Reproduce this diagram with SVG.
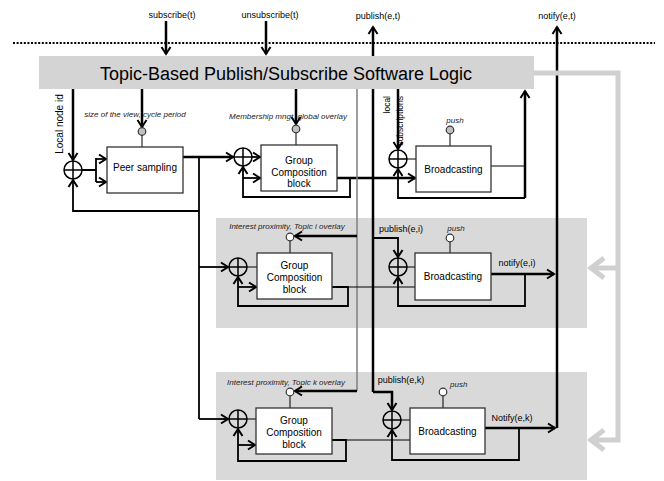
<svg xmlns="http://www.w3.org/2000/svg" width="664" height="481" viewBox="0 0 664 481">
<style>
text{font-family:"Liberation Sans",Arial,sans-serif;fill:#000}
.lbl{font-size:9px;text-anchor:middle}
.it{font-size:8px;font-style:italic;text-anchor:middle;fill:#222}
.box{fill:#fff;stroke:#333;stroke-width:1.3}
.bt{font-size:10px;text-anchor:middle}
.sum{fill:none;stroke:#000;stroke-width:1.5}
.knob{stroke:#333;stroke-width:1.2}
.thick{fill:none;stroke:#000;stroke-width:2.5}
.med{fill:none;stroke:#000;stroke-width:1.8}
.thin{fill:none;stroke:#000;stroke-width:1}
.gray{fill:none;stroke:#7f7f7f;stroke-width:1.5}
.bg{fill:#d9d9d9}
</style>
<defs>
<marker id="a" markerUnits="userSpaceOnUse" refX="0" refY="0" markerWidth="20" markerHeight="20" orient="auto" overflow="visible">
<path d="M-7,-4.5 L0,0 L-7,4.5" fill="none" stroke="#000" stroke-width="2"/>
</marker>
<marker id="g" markerUnits="userSpaceOnUse" refX="0" refY="0" markerWidth="30" markerHeight="30" orient="auto" overflow="visible">
<path d="M-13,-10 L0,0 L-13,10" fill="none" stroke="#d0d0d0" stroke-width="5"/>
</marker>
</defs>
<rect width="664" height="481" fill="#fff"/>

<g id="topic-i-area"><rect class="bg" x="216" y="218" width="371" height="110"/></g>
<g id="topic-k-area"><rect class="bg" x="216" y="372" width="371" height="108"/></g>

<g id="boundary"><line x1="13" y1="43" x2="655" y2="43" stroke="#000" stroke-width="2.2" stroke-dasharray="2 1.6"/></g>

<g id="connectors">
<!-- external interface -->
<line class="thick" x1="166" y1="21" x2="166" y2="54" marker-end="url(#a)"/>
<line class="thick" x1="266" y1="21" x2="266" y2="54" marker-end="url(#a)"/>
<path class="thick" d="M373,392 L373,27" marker-end="url(#a)"/>
<path class="thick" d="M557,428 L557,27" marker-end="url(#a)"/>
<!-- gray feedback -->
<path d="M530,73 L618,73 L618,440 L591,440" fill="none" stroke="#d0d0d0" stroke-width="5" marker-end="url(#g)"/>
<path d="M618,268 L591,268" fill="none" stroke="#d0d0d0" stroke-width="5" marker-end="url(#g)"/>
<!-- peer sampling -->
<line class="thick" x1="73" y1="89" x2="73" y2="160" marker-end="url(#a)"/>
<line class="thick" x1="142" y1="89" x2="142" y2="127" marker-end="url(#a)"/>
<line class="thin" x1="142" y1="135" x2="142" y2="147"/>
<path class="med" d="M82,170 L96,170 M96,158 L96,182"/>
<line class="med" x1="96" y1="159" x2="106" y2="159" marker-end="url(#a)"/>
<line class="med" x1="96" y1="182" x2="106" y2="182" marker-end="url(#a)"/>
<path class="med" d="M199,211 L73,211 L73,180" marker-end="url(#a)"/>
<line class="thick" x1="183" y1="157" x2="233" y2="157" marker-end="url(#a)"/>
<path class="med" d="M199,157 L199,419"/>
<line class="med" x1="199" y1="267" x2="228" y2="267" marker-end="url(#a)"/>
<line class="med" x1="199" y1="419" x2="228" y2="419" marker-end="url(#a)"/>
<!-- group composition 1 -->
<line class="thick" x1="296" y1="89" x2="296" y2="124" marker-end="url(#a)"/>
<line class="thin" x1="296" y1="133" x2="296" y2="145"/>
<line class="med" x1="252" y1="157" x2="260" y2="157" marker-end="url(#a)"/>
<path class="med" d="M337,178 L350,178 L350,197 L243,197 L243,167" marker-end="url(#a)"/>
<line class="med" x1="243" y1="178" x2="260" y2="178" marker-end="url(#a)"/>
<line class="thick" x1="337" y1="178" x2="415" y2="178" marker-end="url(#a)"/>
<!-- overlay control line -->
<path class="gray" d="M357,89 L357,391"/>
<path class="thick" d="M357,236 L295,236" marker-end="url(#a)"/>
<path class="thick" d="M357,391 L295,391" marker-end="url(#a)"/>
<!-- broadcasting 1 -->
<line class="thick" x1="398" y1="89" x2="398" y2="149" marker-end="url(#a)"/>
<line class="thin" x1="407" y1="159" x2="416" y2="159"/>
<line class="thin" x1="450" y1="134" x2="450" y2="146"/>
<path class="thin" d="M491,166 L525,166"/>
<line class="thick" x1="525" y1="198" x2="525" y2="91" marker-end="url(#a)"/>
<path class="med" d="M525,198 L398,198 L398,169" marker-end="url(#a)"/>
<!-- topic i -->
<line class="thin" x1="290" y1="240" x2="290" y2="253"/>
<line class="thin" x1="247" y1="267" x2="257" y2="267"/>
<path class="med" d="M332,287 L348,287 L348,306 L238,306 L238,277" marker-end="url(#a)"/>
<line class="med" x1="238" y1="287" x2="256" y2="287" marker-end="url(#a)"/>
<line class="thin" x1="332" y1="287" x2="415" y2="287"/>
<path class="med" d="M373,238 L398,238 L398,257" marker-end="url(#a)"/>
<line class="thin" x1="407" y1="267" x2="415" y2="267"/>
<line class="thin" x1="450" y1="242" x2="450" y2="253"/>
<line class="thick" x1="491" y1="274" x2="554" y2="274" marker-end="url(#a)"/>
<path class="med" d="M525,274 L525,306 L398,306 L398,277" marker-end="url(#a)"/>
<!-- topic k -->
<line class="thin" x1="290" y1="395" x2="290" y2="408"/>
<line class="thin" x1="247" y1="419" x2="256" y2="419"/>
<path class="med" d="M332,440 L346,440 L346,461 L238,461 L238,429" marker-end="url(#a)"/>
<line class="med" x1="238" y1="445" x2="255" y2="445" marker-end="url(#a)"/>
<line class="thin" x1="332" y1="440" x2="410" y2="440"/>
<path class="thick" d="M373,392 L392,392 L392,410" marker-end="url(#a)"/>
<line class="thin" x1="401" y1="420" x2="410" y2="420"/>
<line class="thin" x1="443" y1="396" x2="443" y2="408"/>
<line class="thick" x1="485" y1="428" x2="555" y2="428" marker-end="url(#a)"/>
<path class="med" d="M519,428 L519,460 L392,460 L392,430" marker-end="url(#a)"/>
</g>

<g id="banner">
<rect x="39" y="56" width="495" height="33" fill="#d4d4d4"/>
<text x="286" y="80" font-size="18" text-anchor="middle">Topic-Based Publish/Subscribe Software Logic</text>
</g>

<g id="interface-labels">
<text class="lbl" x="172" y="18">subscribe(t)</text>
<text class="lbl" x="270" y="18">unsubscribe(t)</text>
<text class="lbl" x="378" y="19">publish(e,t)</text>
<text class="lbl" x="557" y="19">notify(e,t)</text>
<text x="63" y="124" font-size="10" text-anchor="middle" transform="rotate(-90 63 124)">Local node id</text>
</g>

<g id="sum-local"><circle class="sum" cx="73" cy="170" r="9" fill="#fff"/><path class="sum" d="M64,170 H82 M73,161 V179"/></g>
<g id="peer-sampling">
<text class="it" x="135" y="117">size of the view, cycle period</text>
<circle class="knob" cx="142" cy="131.5" r="3.8" fill="#c0c0c0"/>
<rect class="box" x="107" y="147" width="76" height="46"/>
<text class="bt" x="145" y="171">Peer sampling</text>
</g>
<g id="sum-gc1"><circle class="sum" cx="243" cy="157" r="9" fill="#fff"/><path class="sum" d="M234,157 H252 M243,148 V166"/></g>
<g id="group-composition-1">
<text class="it" x="288" y="119">Membership mngt, global overlay</text>
<circle class="knob" cx="296" cy="129" r="3.8" fill="#c0c0c0"/>
<rect class="box" x="261" y="145" width="76" height="46"/>
<text class="bt" x="299" y="163.5">Group</text>
<text class="bt" x="299" y="175.5">Composition</text>
<text class="bt" x="299" y="187">block</text>
</g>
<g id="sum-b1"><circle class="sum" cx="398" cy="159" r="9" fill="#fff"/><path class="sum" d="M389,159 H407 M398,150 V168"/></g>
<g id="broadcasting-1">
<text x="390" y="96" font-size="8.5" text-anchor="end" transform="rotate(-90 390 96)">local</text>
<text x="403" y="96" font-size="8.5" text-anchor="end" transform="rotate(-90 403 96)">subscriptions</text>
<text class="it" x="455" y="123">push</text>
<circle class="knob" cx="450" cy="130" r="3.8" fill="#c0c0c0"/>
<rect class="box" x="416" y="146" width="75" height="46"/>
<text class="bt" x="453.5" y="172.5">Broadcasting</text>
</g>

<g id="sum-gci"><circle class="sum" cx="238" cy="267" r="9" fill="#fff"/><path class="sum" d="M229,267 H247 M238,258 V276"/></g>
<g id="group-composition-i">
<text class="it" x="287" y="229">Interest proximity, Topic i overlay</text>
<circle class="knob" cx="290" cy="237" r="3.8" fill="#fff"/>
<rect class="box" x="257" y="253" width="75" height="46"/>
<text class="bt" x="294.5" y="269">Group</text>
<text class="bt" x="294.5" y="281">Composition</text>
<text class="bt" x="294.5" y="293">block</text>
</g>
<g id="sum-bi"><circle class="sum" cx="398" cy="267" r="9" fill="#fff"/><path class="sum" d="M389,267 H407 M398,258 V276"/></g>
<g id="broadcasting-i">
<text class="lbl" x="401" y="232">publish(e,i)</text>
<text class="it" x="456" y="231">push</text>
<circle class="knob" cx="450" cy="238" r="3.8" fill="#fff"/>
<rect class="box" x="415" y="253" width="76" height="47"/>
<text class="bt" x="453" y="280">Broadcasting</text>
<text class="lbl" x="517" y="266">notify(e,i)</text>
</g>

<g id="sum-gck"><circle class="sum" cx="238" cy="419" r="9" fill="#fff"/><path class="sum" d="M229,419 H247 M238,410 V428"/></g>
<g id="group-composition-k">
<text class="it" x="286" y="385">Interest proximity, Topic k overlay</text>
<circle class="knob" cx="290" cy="392" r="3.8" fill="#fff"/>
<rect class="box" x="256" y="408" width="76" height="46"/>
<text class="bt" x="294" y="424">Group</text>
<text class="bt" x="294" y="436">Composition</text>
<text class="bt" x="294" y="447.5">block</text>
</g>
<g id="sum-bk"><circle class="sum" cx="392" cy="420" r="9" fill="#fff"/><path class="sum" d="M383,420 H401 M392,411 V429"/></g>
<g id="broadcasting-k">
<text class="lbl" x="401" y="383">publish(e,k)</text>
<text class="it" x="450" y="387" style="text-anchor:start">push</text>
<circle class="knob" cx="443" cy="392" r="3.8" fill="#fff"/>
<rect class="box" x="410" y="408" width="75" height="46"/>
<text class="bt" x="447.5" y="434.5">Broadcasting</text>
<text class="lbl" x="512" y="421">Notify(e,k)</text>
</g>
</svg>
